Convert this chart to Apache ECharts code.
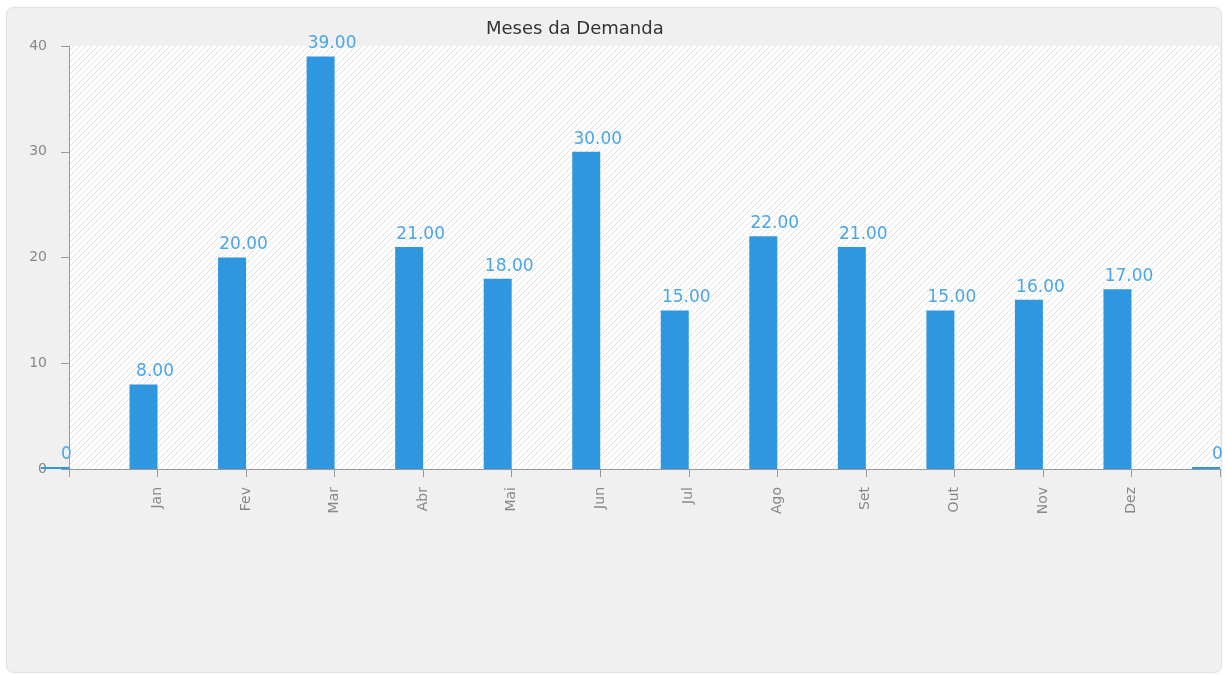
<!DOCTYPE html>
<html>
<head>
<meta charset="utf-8">
<script src="https://cdn.jsdelivr.net/npm/echarts@6/dist/echarts.min.js"></script>
<style>
  html, body { margin: 0; padding: 0; background: #ffffff; width: 1226px; height: 675px; overflow: hidden; }
  #panel { position: absolute; left: 6px; top: 7px; width: 1214px; height: 664px; background: #f0f0f0;
           border: 1px solid #e2e2e2; border-radius: 8px; box-shadow: 0 0 2px rgba(0,0,0,0.08); }
  #chart { position: absolute; left: 0; top: 0; width: 1226px; height: 675px; }
</style>
</head>
<body>
<div id="panel"></div>
<div id="chart"></div>
<script>
// ---- data ----
const titleText = 'Meses da Demanda';
const categories = ['', 'Jan', 'Fev', 'Mar', 'Abr', 'Mai', 'Jun', 'Jul', 'Ago', 'Set', 'Out', 'Nov', 'Dez', ''];
const demand = [0, 8, 20, 39, 21, 18, 30, 15, 22, 21, 15, 16, 17, 0];
const yTicks = [0, 10, 20, 30, 40];

// hatch pattern for plot background
function makeHatch() {
  const c = document.createElement('canvas');
  c.width = 6; c.height = 6;
  const g = c.getContext('2d');
  g.fillStyle = '#ffffff';
  g.fillRect(0, 0, 6, 6);
  g.strokeStyle = '#e0e0e0';
  g.lineWidth = 1;
  g.beginPath();
  g.moveTo(-1, 7); g.lineTo(7, -1);
  g.moveTo(-1, 1); g.lineTo(1, -1);
  g.moveTo(5, 7); g.lineTo(7, 5);
  g.stroke();
  return c;
}

const chart = echarts.init(document.getElementById('chart'), null, { renderer: 'canvas' });
const font = 'DejaVu Sans';
chart.setOption({
  backgroundColor: 'transparent',
  animation: false,
  title: {
    text: titleText,
    left: 481, top: 15,
    textStyle: { fontFamily: font, fontSize: 18, fontWeight: 'normal', color: '#333333' }
  },
  grid: {
    left: 69, top: 46, width: 1151, height: 423,
    show: true, borderWidth: 0,
    backgroundColor: { image: makeHatch(), repeat: 'repeat' }
  },
  xAxis: {
    type: 'category',
    data: categories,
    boundaryGap: false,
    axisLine: { show: true, lineStyle: { color: '#999999', width: 1 } },
    axisTick: { show: true, length: 8, interval: 0, lineStyle: { color: '#999999' } },
    axisLabel: { interval: 0, rotate: 90, margin: 18, color: '#888888', fontFamily: font, fontSize: 14 },
    splitLine: { show: false }
  },
  yAxis: {
    type: 'value',
    min: yTicks[0], max: yTicks[yTicks.length - 1], interval: 10,
    axisLine: { show: true, lineStyle: { color: '#999999', width: 1 } },
    axisTick: { show: true, length: 8, lineStyle: { color: '#999999' } },
    axisLabel: { margin: 22, color: '#888888', fontFamily: font, fontSize: 14 },
    splitLine: { show: false }
  },
  series: [
    {
      type: 'bar',
      data: demand,
      barWidth: 28,
      barGap: '0%',
      barMinHeight: 2,
      clip: false,
      itemStyle: { color: '#2f97df' },
      label: {
        show: true, position: 'top', distance: 4, offset: [11.5, 0],
        color: '#4ba6e6', fontFamily: font, fontSize: 17,
        formatter: p => (p.value === 0 ? '0' : p.value.toFixed(2))
      }
    },
    {
      type: 'bar',
      data: categories.map(() => '-'),
      barWidth: 28,
      silent: true,
      itemStyle: { color: 'transparent' }
    }
  ]
});
</script>
</body>
</html>
